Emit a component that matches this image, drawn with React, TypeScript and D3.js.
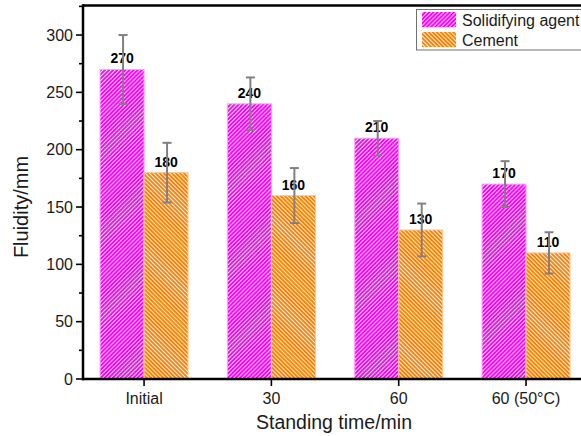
import React from "react";
import * as d3 from "d3";

const categories = ["Initial", "30", "60", "60 (50°C)"];
const seriesNames = ["Solidifying agent", "Cement"];
const solidifying = [270, 240, 210, 170];
const cement = [180, 160, 130, 110];
const solidErr = [30, 23, 15, 20];
const cementErr = [26, 24, 23, 18];
const yTicks = [0, 50, 100, 150, 200, 250, 300];
const yMinorTicks = [25, 75, 125, 175, 225, 275, 325];

const W = 581;
const H = 436;
const FONT = "Arial, 'Liberation Sans', sans-serif";

export default function App() {
  const y = d3.scaleLinear().domain([0, 326.2]).range([379, 5]);
  const x = d3.scaleBand<string>().domain(categories).range([80.4, 589.7]).padding(0);
  const bw = x.bandwidth();
  const barW = 44;
  const x1 = d3.scaleBand<string>().domain(seriesNames).range([bw / 2 - barW, bw / 2 + barW]).padding(0);

  const series = [
    { name: seriesNames[0], values: solidifying, errs: solidErr, fill: "url(#hatchM)", stroke: "#ff9cff" },
    { name: seriesNames[1], values: cement, errs: cementErr, fill: "url(#hatchO)", stroke: "#ffc88c" },
  ];

  const x0 = 83;
  const yBottom = y(0);
  const yTop = y(326.2);

  return (
    <svg width={W} height={H} style={{ position: "absolute", left: 0, top: 0 }} fontFamily={FONT}>
      <defs>
        <pattern id="hatchM" patternUnits="userSpaceOnUse" width={2.9} height={2.9} patternTransform="rotate(45)">
          <rect width={2.9} height={2.9} fill="#ff00ff" />
          <line x1={0.5} y1={0} x2={0.5} y2={2.9} stroke="#ffffff" strokeWidth={0.9} />
        </pattern>
        <pattern id="hatchO" patternUnits="userSpaceOnUse" width={2.9} height={2.9} patternTransform="rotate(-45)">
          <rect width={2.9} height={2.9} fill="#ff8000" />
          <line x1={0.5} y1={0} x2={0.5} y2={2.9} stroke="#ffffff" strokeWidth={0.9} />
        </pattern>
      </defs>
      <rect x={0} y={0} width={W} height={H} fill="#ffffff" />

      {/* bars */}
      {series.map((s) =>
        categories.map((c, i) => {
          const bx = (x(c) as number) + (x1(s.name) as number);
          const by = y(s.values[i]);
          return (
            <rect
              key={s.name + c}
              x={bx}
              y={by}
              width={x1.bandwidth()}
              height={yBottom - by}
              fill={s.fill}
              stroke={s.stroke}
              strokeWidth={1}
            />
          );
        })
      )}

      {/* value labels */}
      {series.map((s) =>
        categories.map((c, i) => {
          const cx = (x(c) as number) + (x1(s.name) as number) + x1.bandwidth() / 2;
          return (
            <text
              key={"l" + s.name + c}
              x={cx}
              y={y(s.values[i]) - 6}
              textAnchor="middle"
              fontSize={14}
              fontWeight="bold"
              fill="#000"
            >
              {s.values[i]}
            </text>
          );
        })
      )}

      {/* error bars */}
      {series.map((s) =>
        categories.map((c, i) => {
          const cx = (x(c) as number) + (x1(s.name) as number) + x1.bandwidth() / 2 + 1;
          const yt = y(s.values[i] + s.errs[i]);
          const yb = y(s.values[i] - s.errs[i]);
          return (
            <g key={"e" + s.name + c} stroke="#808080" strokeWidth={2}>
              <line x1={cx} x2={cx} y1={yt} y2={yb} />
              <line x1={cx - 4.5} x2={cx + 4.5} y1={yt} y2={yt} />
              <line x1={cx - 4.5} x2={cx + 4.5} y1={yb} y2={yb} />
            </g>
          );
        })
      )}

      {/* frame */}
      <line x1={x0} x2={W} y1={yTop + 0.5} y2={yTop + 0.5} stroke="#000" strokeWidth={2.5} />
      <line x1={x0 - 1} x2={W} y1={yBottom} y2={yBottom} stroke="#000" strokeWidth={2.5} />
      <line x1={x0} x2={x0} y1={yTop - 0.7} y2={yBottom + 1.2} stroke="#000" strokeWidth={2.5} />

      {/* y ticks */}
      {yTicks.map((t) => (
        <g key={"yt" + t}>
          <line x1={x0 - 7} x2={x0} y1={y(t)} y2={y(t)} stroke="#000" strokeWidth={1.6} />
          <text x={x0 - 10} y={y(t) + 5.5} textAnchor="end" fontSize={16} fill="#1a1a1a">
            {t}
          </text>
        </g>
      ))}
      {yMinorTicks.filter((t) => y(t) >= yTop).map((t) => (
        <line key={"ym" + t} x1={x0 - 4} x2={x0} y1={y(t)} y2={y(t)} stroke="#000" strokeWidth={1.6} />
      ))}

      {/* x ticks */}
      {categories.map((c) => {
        const cx = (x(c) as number) + bw / 2;
        return (
          <g key={"xt" + c}>
            <line x1={cx} x2={cx} y1={yBottom} y2={yBottom + 7} stroke="#000" strokeWidth={1.6} />
            <text x={cx} y={404} textAnchor="middle" fontSize={16} fill="#1a1a1a">
              {c}
            </text>
          </g>
        );
      })}

      {/* axis titles */}
      <text x={334} y={429} textAnchor="middle" fontSize={19.5} fill="#1a1a1a">
        Standing time/min
      </text>
      <text
        transform={`translate(28, 207) rotate(-90)`}
        textAnchor="middle"
        fontSize={20}
        fill="#1a1a1a"
      >
        Fluidity/mm
      </text>

      {/* legend */}
      <rect x={416.5} y={9.5} width={180} height={40.5} fill="#ffffff" stroke="#707070" strokeWidth={1} />
      <rect x={422} y={12} width={34} height={15} fill="url(#hatchM)" />
      <rect x={422} y={32} width={34} height={15} fill="url(#hatchO)" />
      <text x={462} y={25.5} fontSize={16} fill="#1a1a1a">
        {seriesNames[0]}
      </text>
      <text x={462} y={45.5} fontSize={16} fill="#1a1a1a">
        {seriesNames[1]}
      </text>
    </svg>
  );
}
